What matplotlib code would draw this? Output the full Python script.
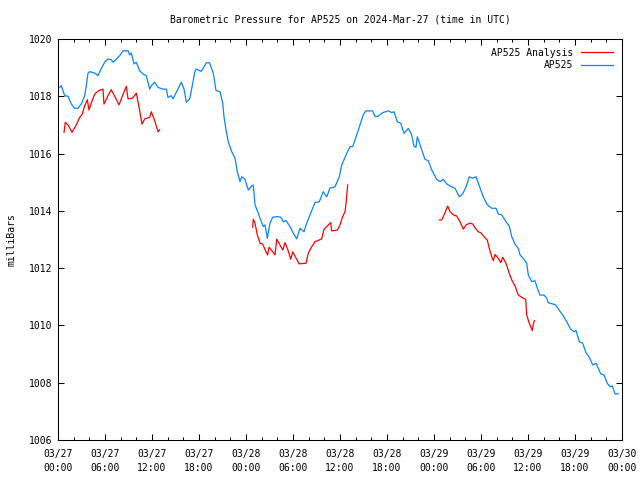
import matplotlib
matplotlib.use("Agg")
import matplotlib.pyplot as plt
from matplotlib.ticker import MultipleLocator

# ---- data (hours since 2024-03-27 00:00 UTC, pressure in mb) ----
blue_t = [0.22, 0.42, 0.86, 1.28, 1.70, 2.13, 2.55, 2.97, 3.41, 3.61, 3.83, 4.05, 4.69, 5.11, 5.45, 5.96,
          6.38, 6.80, 7.02, 7.44, 7.88, 8.30, 8.94, 9.15, 9.36, 9.70, 10.00, 10.43, 10.85, 11.27, 11.71,
          11.91, 12.34, 12.77, 13.40, 13.83, 14.04, 14.46, 14.68, 15.10, 15.74, 16.09, 16.38, 16.81, 17.23,
          17.45, 17.66, 18.29, 18.73, 18.93, 19.34, 19.83, 20.17, 20.68, 21.03, 21.19, 21.45, 21.74, 22.17,
          22.60, 22.89, 23.23, 23.45, 23.87, 24.29, 24.73, 24.93, 25.15, 25.57, 25.79, 26.21, 26.43, 26.72,
          27.06, 27.41, 28.00, 28.43, 28.76, 29.11, 29.62, 30.04, 30.47, 30.89, 31.40, 31.75, 32.17, 32.81,
          33.36, 33.87, 34.30, 34.72, 35.36, 35.91, 36.22, 36.86, 37.28, 37.62, 38.13, 38.55, 38.97, 39.28,
          40.17, 40.47, 40.89, 41.45, 42.17, 42.60, 42.89, 43.32, 43.75, 44.17, 44.72, 45.15, 45.45, 45.70,
          45.87, 46.43, 46.85, 47.27, 47.71, 48.34, 48.77, 49.19, 49.62, 50.04, 50.68, 51.23, 51.66, 52.09,
          52.51, 52.94, 53.36, 53.78, 54.29, 54.80, 55.37, 55.92, 56.21, 56.64, 57.19, 57.61, 57.92, 58.34,
          58.76, 58.98, 59.40, 59.83, 60.04, 60.47, 60.89, 61.19, 61.53, 62.04, 62.39, 62.59, 63.15, 63.57,
          64.00, 64.43, 64.94, 65.45, 65.87, 66.13, 66.55, 66.98, 67.40, 67.83, 68.26, 68.68, 68.98, 69.28,
          69.70, 70.12, 70.47, 70.76, 71.11, 71.53]
blue_p = [1018.31, 1018.37, 1018.02, 1018.00, 1017.73, 1017.58, 1017.58, 1017.73, 1018.02, 1018.37, 1018.81,
          1018.86, 1018.81, 1018.72, 1018.93, 1019.19, 1019.30, 1019.28, 1019.19, 1019.30, 1019.42, 1019.59,
          1019.59, 1019.44, 1019.51, 1019.13, 1019.19, 1018.89, 1018.78, 1018.72, 1018.25, 1018.37, 1018.49,
          1018.31, 1018.25, 1018.25, 1017.96, 1018.02, 1017.91, 1018.14, 1018.49, 1018.25, 1017.79, 1017.91,
          1018.49, 1018.84, 1018.95, 1018.87, 1019.07, 1019.17, 1019.17, 1018.80, 1018.20, 1018.16, 1017.76,
          1017.29, 1016.82, 1016.41, 1016.07, 1015.84, 1015.37, 1015.02, 1015.19, 1015.10, 1014.73, 1014.87,
          1014.90, 1014.21, 1013.92, 1013.74, 1013.45, 1013.51, 1013.04, 1013.57, 1013.78, 1013.80, 1013.78,
          1013.62, 1013.66, 1013.45, 1013.22, 1013.02, 1013.39, 1013.27, 1013.57, 1013.86, 1014.29, 1014.32,
          1014.67, 1014.49, 1014.79, 1014.84, 1015.19, 1015.60, 1016.01, 1016.24, 1016.24, 1016.65, 1017.00,
          1017.35, 1017.49, 1017.49, 1017.29, 1017.31, 1017.43, 1017.49, 1017.43, 1017.46, 1017.11, 1017.06,
          1016.71, 1016.88, 1016.65, 1016.26, 1016.22, 1016.59, 1016.13, 1015.80, 1015.75, 1015.43, 1015.10,
          1015.02, 1015.10, 1014.94, 1014.87, 1014.79, 1014.49, 1014.59, 1014.84, 1015.19, 1015.14, 1015.19,
          1014.87, 1014.49, 1014.21, 1014.09, 1014.09, 1013.89, 1013.86, 1013.62, 1013.47, 1013.10, 1012.84,
          1012.69, 1012.46, 1012.34, 1012.17, 1011.76, 1011.53, 1011.56, 1011.30, 1011.06, 1011.06, 1010.95,
          1010.79, 1010.75, 1010.71, 1010.52, 1010.37, 1010.13, 1009.87, 1009.78, 1009.82, 1009.43, 1009.38,
          1009.05, 1008.89, 1008.62, 1008.68, 1008.50, 1008.31, 1008.27, 1007.98, 1007.86, 1007.89, 1007.61,
          1007.61]

red1_t = [0.77, 0.93, 1.28, 1.79, 2.34, 2.77, 3.06, 3.41, 3.74, 3.96, 4.25, 4.69, 5.20, 5.74, 5.87, 6.38,
          6.80, 7.24, 7.79, 8.21, 8.72, 8.94, 9.45, 9.70, 10.00, 10.43, 10.72, 11.07, 11.71, 11.91, 12.34,
          12.77, 12.98]
red1_p = [1016.74, 1017.09, 1017.00, 1016.74, 1017.00, 1017.27, 1017.35, 1017.67, 1017.88, 1017.52, 1017.77,
          1018.08, 1018.20, 1018.25, 1017.73, 1018.02, 1018.23, 1018.00, 1017.70, 1018.00, 1018.35, 1017.91,
          1017.93, 1018.00, 1018.11, 1017.50, 1017.03, 1017.21, 1017.27, 1017.46, 1017.15, 1016.76, 1016.83]

red2_t = [24.86, 24.93, 25.15, 25.44, 25.79, 26.13, 26.55, 26.77, 26.94, 27.41, 27.70, 27.92, 28.34, 28.69,
          28.98, 29.32, 29.71, 29.96, 30.47, 30.77, 31.66, 31.95, 32.39, 32.81, 33.66, 33.96, 34.81, 34.94,
          35.66, 36.00, 36.34, 36.64, 36.77, 36.98]
red2_p = [1013.43, 1013.71, 1013.57, 1013.16, 1012.87, 1012.84, 1012.57, 1012.46, 1012.73, 1012.57, 1012.46,
          1013.01, 1012.81, 1012.63, 1012.89, 1012.66, 1012.31, 1012.57, 1012.31, 1012.15, 1012.17, 1012.52,
          1012.75, 1012.92, 1013.02, 1013.36, 1013.59, 1013.30, 1013.33, 1013.51, 1013.80, 1013.97, 1014.26,
          1014.90]

red3_t = [48.68, 48.98, 49.41, 49.75, 50.04, 50.47, 50.90, 51.32, 51.74, 52.09, 52.60, 52.94, 53.24, 53.66,
          53.96, 54.38, 54.80, 55.06, 55.37, 55.57, 55.79, 56.21, 56.52, 56.77, 57.19, 57.61, 57.92, 58.34,
          58.76, 59.40, 59.71, 59.83, 60.13, 60.55, 60.68, 60.81]
red3_p = [1013.68, 1013.68, 1013.94, 1014.17, 1013.97, 1013.86, 1013.82, 1013.62, 1013.36, 1013.51, 1013.57,
          1013.54, 1013.41, 1013.27, 1013.24, 1013.10, 1012.98, 1012.69, 1012.40, 1012.26, 1012.48, 1012.34,
          1012.19, 1012.38, 1012.17, 1011.82, 1011.59, 1011.38, 1011.06, 1010.95, 1010.91, 1010.37, 1010.10,
          1009.82, 1010.05, 1010.17]

x_tick_hours = [0, 6, 12, 18, 24, 30, 36, 42, 48, 54, 60, 66, 72]
x_tick_labels = ["03/27\n00:00", "03/27\n06:00", "03/27\n12:00", "03/27\n18:00",
                 "03/28\n00:00", "03/28\n06:00", "03/28\n12:00", "03/28\n18:00",
                 "03/29\n00:00", "03/29\n06:00", "03/29\n12:00", "03/29\n18:00",
                 "03/30\n00:00"]
y_ticks = [1006, 1008, 1010, 1012, 1014, 1016, 1018, 1020]

title = "Barometric Pressure for AP525 on 2024-Mar-27 (time in UTC)"
ylabel = "milliBars"
red_label = "AP525 Analysis"
blue_label = "AP525"

# ---- style ----
plt.rcParams['font.family'] = ['DejaVu Sans Mono']
FS = 7.0
RED = '#ff0000'
BLUE = '#0a84ff'

fig = plt.figure(figsize=(6.4, 4.8), dpi=100)
ax = fig.add_axes([58/640, 40/480, 564/640, 401/480])

l1, = ax.plot(red1_t, red1_p, color=RED, lw=0.9, label=red_label)
ax.plot(red2_t, red2_p, color=RED, lw=0.9)
ax.plot(red3_t, red3_p, color=RED, lw=0.9)
l2, = ax.plot(blue_t, blue_p, color=BLUE, lw=0.9, label=blue_label)

ax.set_xlim(0, 72)
ax.set_ylim(1006, 1020)
ax.set_xticks(x_tick_hours)
ax.set_xticklabels(x_tick_labels, fontsize=FS, linespacing=1.45)
ax.xaxis.set_minor_locator(MultipleLocator(2))
ax.set_yticks(y_ticks)
ax.set_yticklabels([str(v) for v in y_ticks], fontsize=FS)

ax.tick_params(which='both', direction='in', top=True, right=True, width=0.75)
ax.tick_params(which='major', length=4.5)
ax.tick_params(which='minor', length=2.5)
ax.tick_params(axis='x', pad=6.5)
ax.tick_params(axis='y', pad=4)
for s in ax.spines.values():
    s.set_linewidth(0.75)

ax.set_ylabel(ylabel, fontsize=FS, labelpad=9)
fig.text(340/640, 1 - 20/480, title, fontsize=FS, ha='center', va='center')

leg = ax.legend(handles=[l1, l2], loc='upper right', frameon=False, markerfirst=False,
                fontsize=FS, handlelength=3.3, handletextpad=0.8, labelspacing=0.25,
                borderaxespad=0.5)
for t in leg.get_texts():
    t.set_ha('right')

fig.savefig("out.png", dpi=100)
